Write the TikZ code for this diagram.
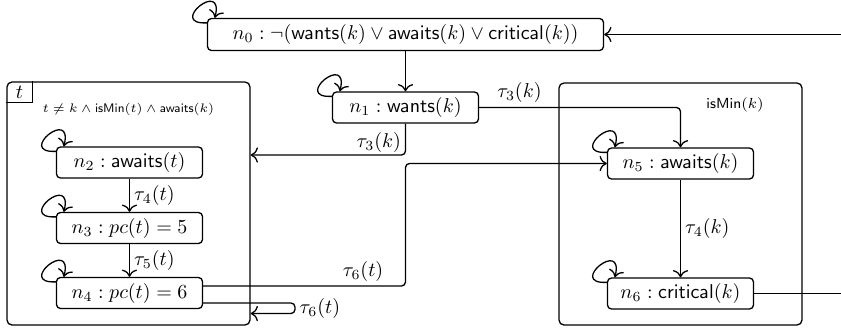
\RequirePackage{fix-cm}
\documentclass[tikz,border=0pt]{standalone}
\usepackage{amsmath,amssymb}
\usetikzlibrary{calc,arrows.meta}

% small loop on the upper-left corner of a state box
\newcommand\selfloop[1]{%
  \draw[->] ($(#1.north west)+(0,5)$) .. controls +(-40,2) and +(10,-40) .. ($(#1.north west)+(8,0)$);}

\begin{document}
\begin{tikzpicture}[x=0.5pt,y=-0.5pt,line width=0.65pt,>={To[scale=1.2]},
  state/.style={draw, rounded corners=2pt, inner sep=0pt, minimum width=73pt, minimum height=15.5pt},
  frame/.style={draw, rounded corners=2.5pt, inner sep=0pt, minimum width=121.5pt, minimum height=121.5pt},
  edge/.style={->, rounded corners=2pt},
  lbl/.style={inner sep=2pt},
  framelbl/.style={inner sep=0pt, font=\fontsize{7.3pt}{9pt}\selectfont}]
\useasboundingbox (0,0) rectangle (841,333);

% the two grouping frames
\node[frame] (tbox) at (128.5,203.5) {};
\node[frame, minimum height=121pt] (kbox) at (680.5,204) {};
\node[anchor=north west, minimum width=12.5pt, minimum height=10pt, inner sep=0pt] (ttag) at (tbox.north west) {$t$};
\draw (ttag.north east) -- (ttag.south east) -- (ttag.south west);
\node[framelbl, font=\fontsize{6.2pt}{8pt}\selectfont] (tcond) at (128.5,109) {$t\neq k\wedge\mathsf{isMin}(t)\wedge\mathsf{awaits}(k)$};
\node[framelbl] (kcond) at (735,105) {$\mathsf{isMin}(k)$};

% states
\node[state, minimum width=198pt, minimum height=16pt] (n0) at (405.5,34.5)
  {$n_0:\neg(\mathsf{wants}(k)\vee\mathsf{awaits}(k)\vee\mathsf{critical}(k))$};
\node[state] (n1) at (405.5,107.5) {$n_1:\mathsf{wants}(k)$};
\node[state] (n2) at (129.5,162.5) {$n_2:\mathsf{awaits}(t)$};
\node[state] (n3) at (129.5,228) {$n_3:pc(t)=5$};
\node[state] (n4) at (129.5,293) {$n_4:pc(t)=6$};
\node[state] (n5) at (680.5,163.5) {$n_5:\mathsf{awaits}(k)$};
\node[state] (n6) at (680.5,293.5) {$n_6:\mathsf{critical}(k)$};

% free ends and bend points
\coordinate (in0) at (841,34.5);
\coordinate (out6) at (841,293.5);
\coordinate (b1) at (405.5,155);
\coordinate (b2) at (405.5,286);
\coordinate (b3) at (295,303);
\coordinate (b4) at (295,313.5);

% transitions
\draw[->] (in0) -- (n0.east);
\draw[->] (n0) -- (n1);
\draw[edge] (n1.east) -| node[lbl,above,pos=0.1]{$\tau_3(k)$} (n5.north);
\draw[edge] (n1.south) -- node[lbl,left,pos=0.6]{$\tau_3(k)$} (b1) -- (tbox.east |- b1);
\draw[->] (n2) -- node[lbl,right]{$\tau_4(t)$} (n3);
\draw[->] (n3) -- node[lbl,right]{$\tau_5(t)$} (n4);
\draw[edge] (n4.east |- b2) -- node[lbl,above,pos=0.79]{$\tau_6(t)$} (b2) |- (n5.west);
\draw[edge] (n4.east |- b3) -- (b3) -- node[lbl,right]{$\tau_6(t)$} (b4) -- (tbox.east |- b4);
\draw[->] (n5) -- node[lbl,right]{$\tau_4(k)$} (n6);
\draw (n6.east) -- (out6);

% self-loops
\foreach \n in {n0,n1,n2,n3,n4,n5,n6} {\selfloop{\n}}
\end{tikzpicture}
\end{document}
